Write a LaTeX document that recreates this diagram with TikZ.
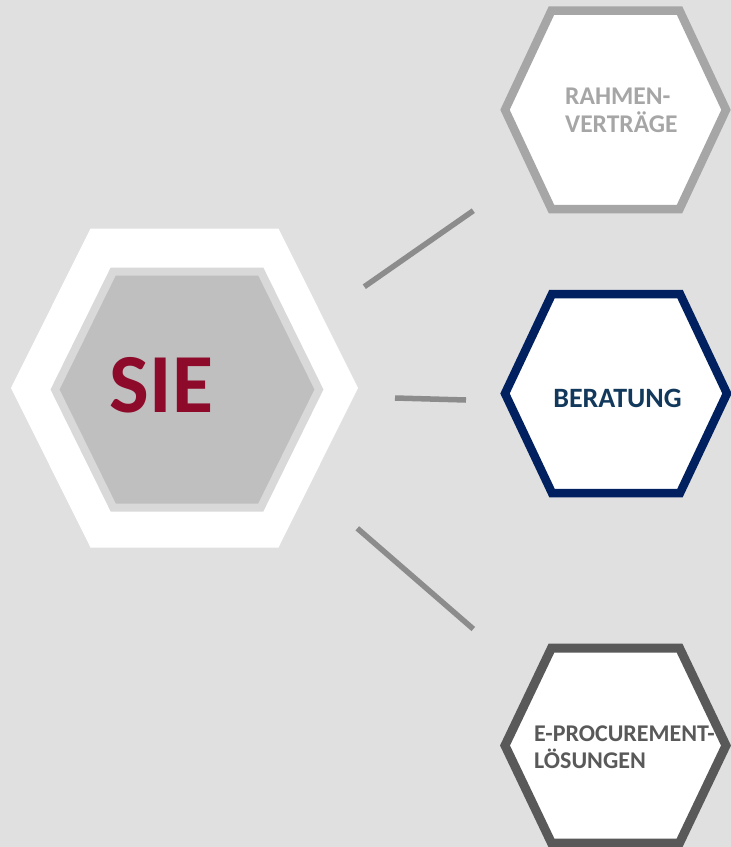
\documentclass[tikz,border=0pt]{standalone}
\usepackage{fontspec}
\setmainfont{Carlito}
\definecolor{bggray}{HTML}{E0E0E0}
\definecolor{ringgray}{HTML}{D9D9D9}
\definecolor{coregray}{HTML}{BFBFBF}
\definecolor{siered}{HTML}{8E0A2A}
\definecolor{navy}{HTML}{002060}
\definecolor{navytext}{HTML}{12395C}
\definecolor{lightgray}{HTML}{A6A6A6}
\definecolor{darkgray}{HTML}{595959}
\definecolor{linegray}{HTML}{8C8C8C}
\tikzset{
  hexbox/.style={line width=8.5pt, fill=white, line join=miter},
  hextext/.style={font=\bfseries\fontsize{26}{28}\selectfont, inner sep=0pt},
  link/.style={line width=5.5pt, linegray}
}
\begin{document}
\begin{tikzpicture}[x=1pt,y=-1pt]
                    \fill[bggray] (0,0) rectangle (731,847);
                    \useasboundingbox (0,0) rectangle (731,847);
                    % centre hexagon
                    \coordinate (S) at (184.5,388);
                    \fill[white,shift={(S)}] (-173.5,0) -- (-94,-159.5) -- (94,-159.5) -- (173.5,0) -- (94,159.5) -- (-94,159.5) -- cycle;
                    \coordinate (K) at (187,389.5);
                    \draw[line width=8pt,draw=ringgray,fill=coregray,shift={(K)}] (-132,0) -- (-73.8,-118) -- (73.8,-118) -- (132,0) -- (73.8,118) -- (-73.8,118) -- cycle;
                    \node[font=\bfseries\fontsize{84}{84}\selectfont,siered,inner sep=0pt] (sie) at (161.5,385.5) {SIE};
                    % right hexagons
                    \coordinate (R) at (615.5,109.8);
                    \draw[hexbox,draw=lightgray,shift={(R)}] (-110.5,0) -- (-64,-99.3) -- (64,-99.3) -- (110.5,0) -- (64,99.3) -- (-64,99.3) -- cycle;
                    \node[hextext,font=\bfseries\fontsize{25.5}{28}\selectfont,lightgray,align=left,anchor=west] (rahmen) at (565,110) {RAHMEN-\\VERTRÄGE};
                    \coordinate (B) at (616,393.5);
                    \draw[hexbox,draw=navy,shift={(B)}] (-111,0) -- (-64,-99.5) -- (64,-99.5) -- (111,0) -- (64,99.5) -- (-64,99.5) -- cycle;
                    \node[hextext,font=\bfseries\fontsize{28}{30}\selectfont,navytext] (beratung) at (617.5,398.5) {BERATUNG};
                    \coordinate (E) at (615.5,745.5);
                    \draw[hexbox,draw=darkgray,line width=9pt,shift={(E)}] (-110.5,0) -- (-64,-97.5) -- (64,-97.5) -- (110.5,0) -- (64,97.5) -- (-64,97.5) -- cycle;
                    \node[hextext,font=\bfseries\fontsize{24}{27}\selectfont,darkgray,align=left,anchor=west] (eproc) at (534,747.5) {E-PROCUREMENT-\\LÖSUNGEN};
                    % connectors
                    \coordinate (l1a) at (364.3,286.7);
                    \coordinate (l1b) at (473.3,210.7);
                    \coordinate (l2a) at (395,398);
                    \coordinate (l2b) at (466,400);
                    \coordinate (l3a) at (357.3,528.3);
                    \coordinate (l3b) at (473.3,629);
                    \draw[link] (l1a) -- (l1b);
                    \draw[link] (l2a) -- (l2b);
                    \draw[link] (l3a) -- (l3b);
\end{tikzpicture}
\end{document}
